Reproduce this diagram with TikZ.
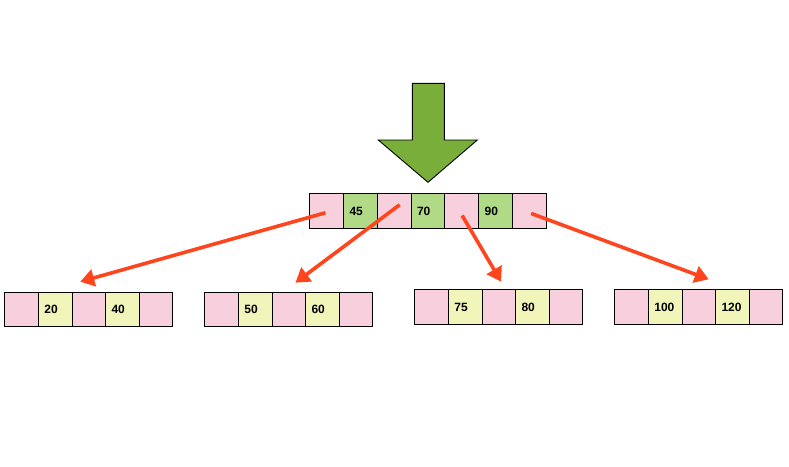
\documentclass[tikz,border=0pt]{standalone}
\usepackage{fontspec}
\setmainfont{Liberation Sans}
\usetikzlibrary{arrows.meta,calc}
\definecolor{cpink}{RGB}{248,208,221}
\definecolor{cgreen}{RGB}{177,218,134}
\definecolor{cyellow}{RGB}{241,245,185}
\definecolor{bigarrow}{RGB}{122,174,58}
\definecolor{ptr}{RGB}{255,69,30}
\tikzset{
  cell/.style={draw=black, line width=0.9pt, minimum height=35pt, minimum width=33.77pt,
    inner xsep=6pt, inner ysep=0pt, text width=21.77pt, align=left, anchor=north west,
    font=\bfseries\fontsize{12}{12}\selectfont},
  leafcell/.style={cell, minimum width=33.6pt, text width=21.6pt, minimum height=34.4pt},
  ptrarrow/.style={draw=ptr, line width=3.6pt, -{Triangle[length=14pt,width=17pt]}},
  bigarr/.style={fill=bigarrow, draw=black, line width=0.9pt, line join=miter}
}
\begin{document}
\begin{tikzpicture}[x=1pt,y=-1pt]
\useasboundingbox (0,0) rectangle (789,466);
% big arrow
\draw[bigarr] (412.3,83.3) -- (444.3,83.3) -- (444.3,140) -- (477.3,140) -- (428,182.3)
  -- (378.3,140) -- (412.3,140) -- cycle;
% root node
\foreach \i/\t/\c in {1//cpink,2/45/cgreen,3//cpink,4/70/cgreen,5//cpink,6/90/cgreen,7//cpink}
  \node[cell, fill=\c] (t\i) at ({309.3+(\i-1)*33.77},193.3) {\t};
% leaves
\foreach \l/\x/\y/\a/\b in {1/4.3/291.7/20/40, 2/204.3/291.7/50/60, 3/414.3/289.3/75/80, 4/614.3/289.3/100/120}{
  \node[leafcell, fill=cpink]   (l\l c1) at (\x,\y) {};
  \node[leafcell, fill=cyellow] (l\l c2) at ({\x+33.6},\y) {\a};
  \node[leafcell, fill=cpink]   (l\l c3) at ({\x+2*33.6},\y) {};
  \node[leafcell, fill=cyellow] (l\l c4) at ({\x+3*33.6},\y) {\b};
  \node[leafcell, fill=cpink]   (l\l c5) at ({\x+4*33.6},\y) {};
}
% pointer arrows
\draw[ptrarrow] ($(t1.center)+(-1.2,1.5)$) -- ($(l1c3.north)+(-8.5,-10)$);
\draw[ptrarrow] ($(t3.center)+(5.5,-6.5)$) -- ($(l2c3.north)+(6.7,-9)$);
\draw[ptrarrow] ($(t5.center)+(0.4,4.2)$) -- ($(l3c3.north)+(2.4,-7.6)$);
\draw[ptrarrow] ($(t7.center)+(1.9,2.2)$) -- ($(l4c3.north)+(10,-10)$);
\end{tikzpicture}
\end{document}
